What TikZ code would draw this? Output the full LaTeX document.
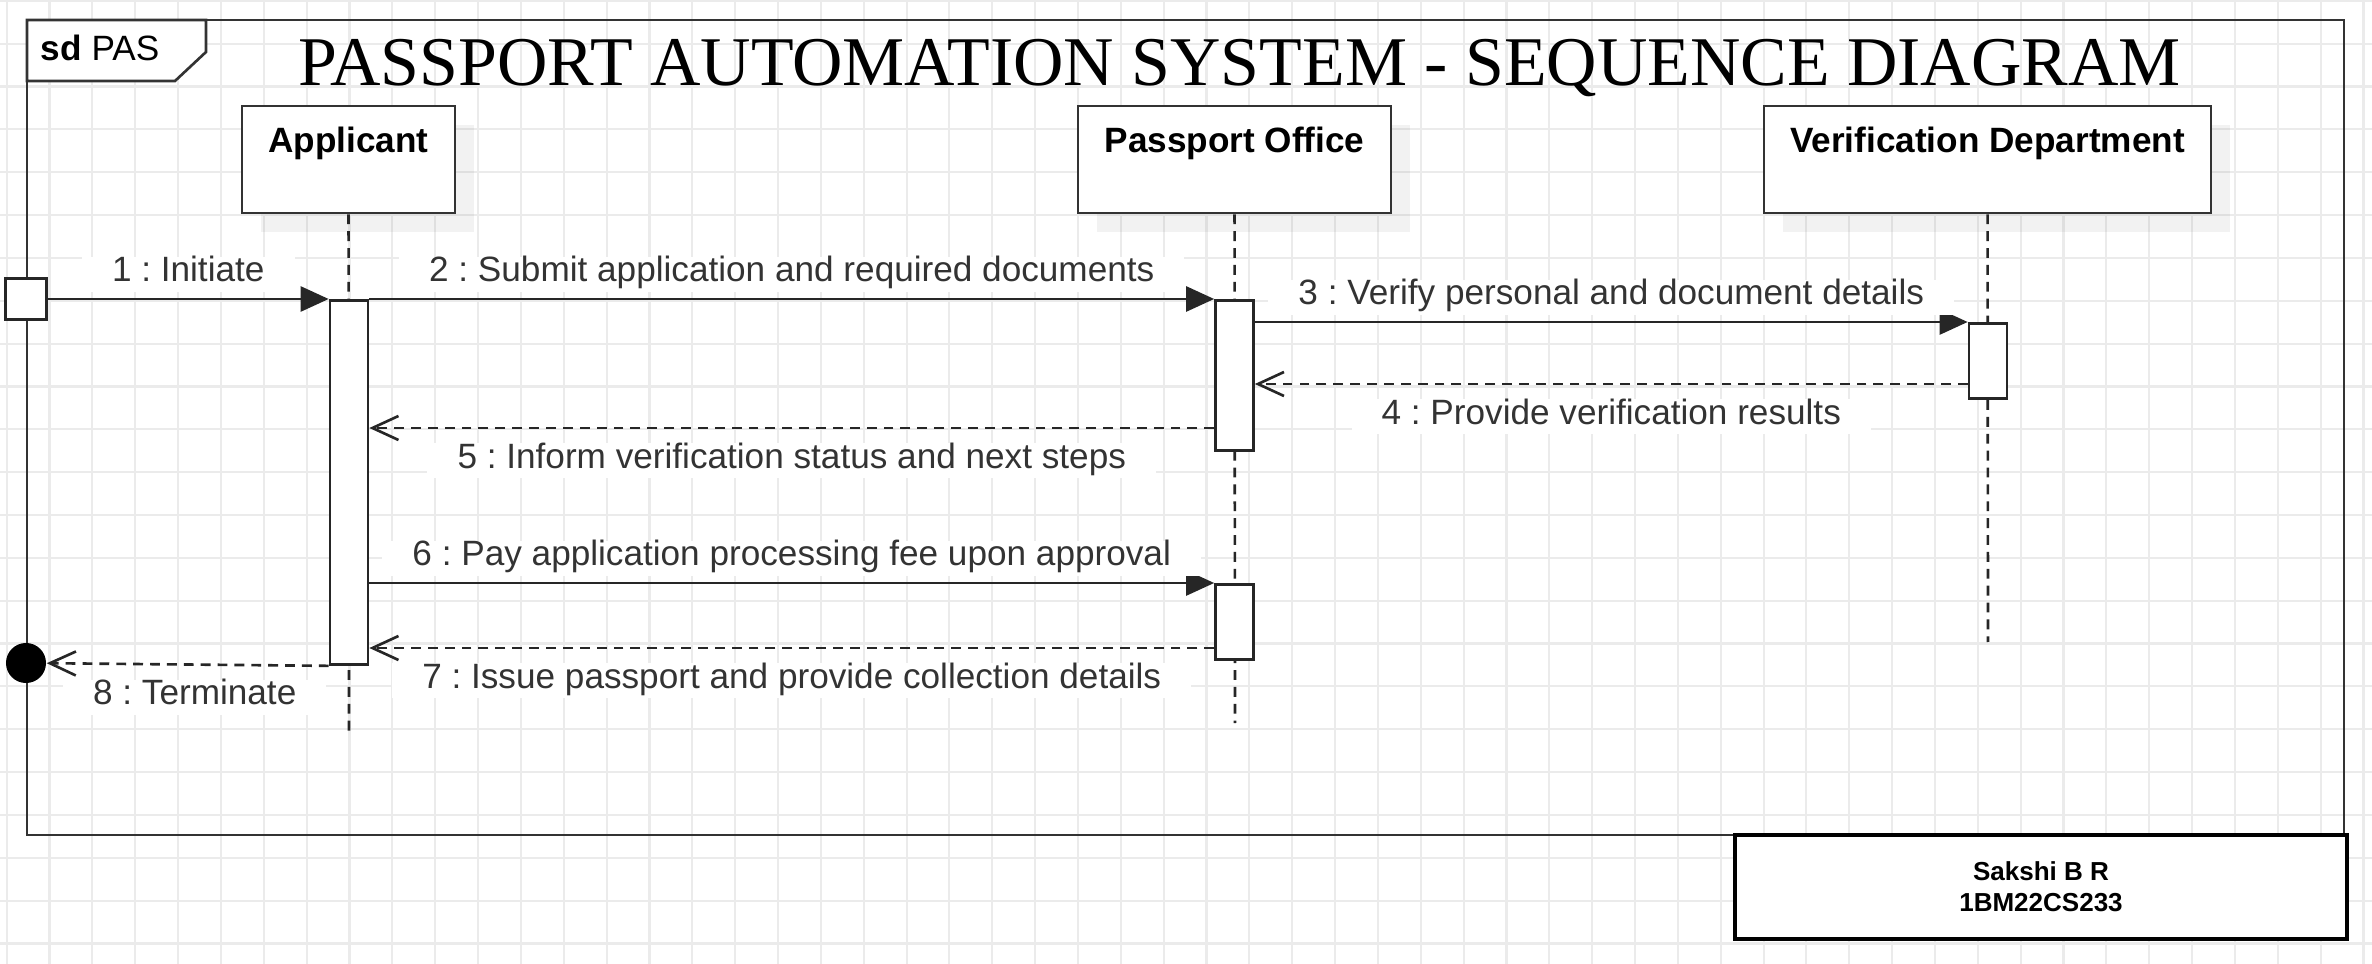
\documentclass[tikz,border=0pt]{standalone}
\usepackage{fontspec}
\setmainfont{Liberation Sans}
\newfontfamily\titlefont{Liberation Serif}
\usetikzlibrary{arrows.meta,positioning,shadows}
\frenchspacing

\begin{document}
\begin{tikzpicture}[
  x=0.01cm, y=-0.01cm,
  font=\fontsize{10}{12}\selectfont,
  gridline/.style={black!8, line width=0.6pt},
  frame/.style={draw=black!80, line width=0.75pt},
  head/.style={draw=black!80, line width=0.75pt, fill=white, font=\fontsize{10}{12}\selectfont\bfseries, minimum height=1.07cm, text height=0.25cm, text depth=0.38cm, inner sep=0pt, drop shadow={shadow xshift=0.19cm, shadow yshift=-0.19cm, fill=black, opacity=0.05}},
  lifeline/.style={draw=black!85, line width=0.75pt, dash pattern=on 2.8pt off 2pt},
  bar/.style={draw=black!85, line width=0.75pt, fill=white, minimum width=0.38cm, inner sep=0pt, anchor=north},
  call/.style={draw=black!85, line width=0.75pt, -{Triangle[length=0.28cm, width=0.25cm]}},
  reply/.style={draw=black!85, line width=0.75pt, dash pattern=on 2.8pt off 2pt, -{Straight Barb[length=0.26cm, width=0.24cm]}},
  msg/.style={fill=white, text=black!80, inner xsep=0.3cm, inner ysep=0pt, text height=0.25cm, text depth=0.1cm}
]
% page and grid
\fill[white] (0,0) rectangle (2372,964);
\useasboundingbox (0,0) rectangle (2372,964);
\foreach \i in {0,...,55}
  \draw[gridline] ({6.7+42.85*\i},0) -- ({6.7+42.85*\i},964);
\foreach \j in {0,...,22}
  \draw[gridline] (0,{0.8+42.85*\j}) -- (2372,{0.8+42.85*\j});

% frame
\draw[frame] (27,20) rectangle (2344,835);
\draw[frame, fill=white] (27,20) -- (206,20) -- (206,52) -- (175,81) -- (27,81) -- cycle;
\node[anchor=base west, inner sep=0pt] (tab) at (40,61) {\textbf{sd} PAS};
\node[anchor=base, inner sep=0pt, font=\titlefont\fontsize{19.85}{22}\selectfont] (title) at (1239.5,86) {PASSPORT AUTOMATION SYSTEM - SEQUENCE DIAGRAM};

% lifelines
\node[head, minimum width=2.13cm] (applicant) at (348.5,159.5) {Applicant};
\node[head, minimum width=3.13cm] (office) at (1234.5,159.5) {Passport Office};
\node[head, minimum width=4.47cm] (verif) at (1987.5,159.5) {Verification Department};
\coordinate (applicant end) at (349,737);
\coordinate (office end) at (1235,723);
\coordinate (verif end) at (1988,642);
\draw[lifeline] (applicant) -- (applicant end);
\draw[lifeline] (office) -- (office end);
\draw[lifeline] (verif) -- (verif end);

% activations
\node[bar, minimum height=3.64cm] (appbar) at (349,299) {};
\node[bar, minimum height=1.50cm] (officebar1) at (1234.5,299) {};
\node[bar, minimum height=0.75cm] (officebar2) at (1234.5,583) {};
\node[bar, minimum height=0.75cm] (verifbar) at (1988,322) {};
\node[draw=black!85, line width=0.75pt, fill=white, minimum size=0.41cm, inner sep=0pt] (found) at (26,299) {};
\node[circle, fill=black, minimum size=0.4cm, inner sep=0pt] (stop) at (26,663) {};

\coordinate (r4) at (0,384);
\coordinate (r5) at (0,428);
\coordinate (r7) at (0,648);

% messages
\draw[call] (found) -- node[msg, above=0.06cm]{1 : Initiate} (appbar.north west);
\draw[call] (appbar.north east) -- node[msg, above=0.06cm]{2 : Submit application and required documents} (officebar1.north west);
\draw[call] (officebar1.east |- verifbar.north) -- node[msg, above=0.06cm]{3 : Verify personal and document details} (verifbar.north west);
\draw[reply] (verifbar.west |- r4) -- node[msg, below=0.14cm]{4 : Provide verification results} (officebar1.east |- r4);
\draw[reply] (officebar1.west |- r5) -- node[msg, below=0.14cm]{5 : Inform verification status and next steps} (appbar.east |- r5);
\draw[call] (appbar.east |- officebar2.north) -- node[msg, above=0.06cm]{6 : Pay application processing fee upon approval} (officebar2.north west);
\draw[reply] (officebar2.west |- r7) -- node[msg, below=0.14cm]{7 : Issue passport and provide collection details} (appbar.east |- r7);
\draw[reply] (appbar.south west) -- node[msg, below=0.14cm, xshift=0.07cm]{8 : Terminate} (stop);

% author box
\node[draw=black, line width=1pt, fill=white, minimum width=6.12cm, minimum height=1.04cm, align=center, font=\fontsize{7.4}{8.8}\selectfont\bfseries] (author) at (2041,887) {Sakshi B R\\1BM22CS233};
\end{tikzpicture}
\end{document}
